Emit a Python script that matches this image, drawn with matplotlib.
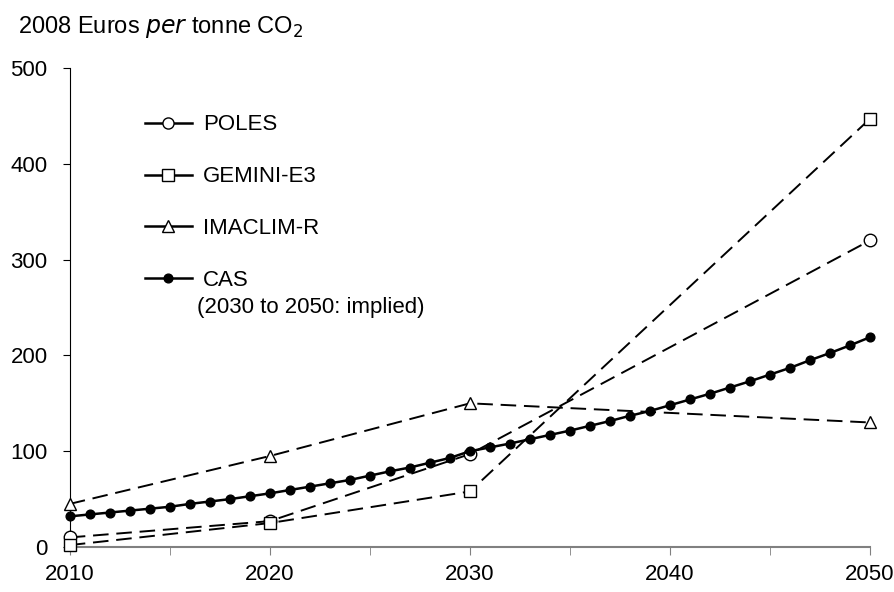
import matplotlib.pyplot as plt
from matplotlib.lines import Line2D

plt.rcParams['font.family'] = ['Liberation Sans', 'DejaVu Sans']

# data
years_models = [2010, 2020, 2030, 2050]
poles = [10, 27, 97, 320]
gemini = [2, 25, 58, 447]
imaclim = [45, 95, 150, 130]

years_cas = list(range(2010, 2051))
cas = [32, 34, 36, 38, 40, 42, 45, 47.5, 50, 53, 56, 59.5, 63, 66.5, 70, 74.5,
       79, 83, 88, 93, 100, 104, 108, 112.5, 117, 121.5, 126.5, 131.5, 137, 142,
       148, 154, 160, 166.5, 173, 180, 187, 195, 202.5, 210.5, 219]

fig = plt.figure(figsize=(8.95, 5.92), dpi=100)
ax = fig.add_axes([0.078, 0.076, 0.894, 0.809])

dash = (0, (8, 4))
ax.plot(years_models, poles, linestyle=dash, color='black', lw=1.4,
        marker='o', ms=9, mfc='white', mec='black', mew=1, clip_on=False, zorder=3)
ax.plot(years_models, gemini, linestyle=dash, color='black', lw=1.4,
        marker='s', ms=9, mfc='white', mec='black', mew=1, clip_on=False, zorder=3)
ax.plot(years_models, imaclim, linestyle=dash, color='black', lw=1.4,
        marker='^', ms=9, mfc='white', mec='black', mew=1, clip_on=False, zorder=3)
ax.plot(years_cas, cas, '-', color='black', lw=1.8,
        marker='o', ms=6.3, clip_on=False, zorder=4)

ax.set_xlim(2010, 2050)
ax.set_ylim(0, 500)
ax.set_xticks([2010, 2020, 2030, 2040, 2050])
ax.set_xticks([2015, 2025, 2035, 2045], minor=True)
ax.set_yticks([0, 100, 200, 300, 400, 500])
ax.tick_params(axis='both', labelsize=16, direction='out')
ax.tick_params(axis='x', which='both', length=6, color='#808080', pad=6)
ax.tick_params(axis='y', length=5, pad=11)
ax.spines['top'].set_visible(False)
ax.spines['right'].set_visible(False)
ax.spines['bottom'].set_color('#808080')
ax.spines['bottom'].set_linewidth(1.5)

fig.text(0.020, 0.977, "2008 Euros $\\it{per}$ tonne CO$_2$", fontsize=17, va='top')

# legende
handles = [
    Line2D([], [], color='black', lw=1.8, marker='o', ms=8, mfc='white', mec='black'),
    Line2D([], [], color='black', lw=1.8, marker='s', ms=8, mfc='white', mec='black'),
    Line2D([], [], color='black', lw=1.8, marker='^', ms=8, mfc='white', mec='black'),
    Line2D([], [], color='black', lw=1.8, marker='o', ms=6.3),
]
labels = ['POLES', 'GEMINI-E3', 'IMACLIM-R', 'CAS']
ax.legend(handles, labels, loc='upper left', bbox_to_anchor=(0.069, 0.945),
          frameon=False, fontsize=16, handlelength=2.1, handletextpad=0.5,
          labelspacing=1.39)
# deuxieme ligne de la legende CAS
fig.text(0.220, 0.480, "(2030 to 2050: implied)", fontsize=16, va='center')

plt.savefig('out.png', dpi=100)
